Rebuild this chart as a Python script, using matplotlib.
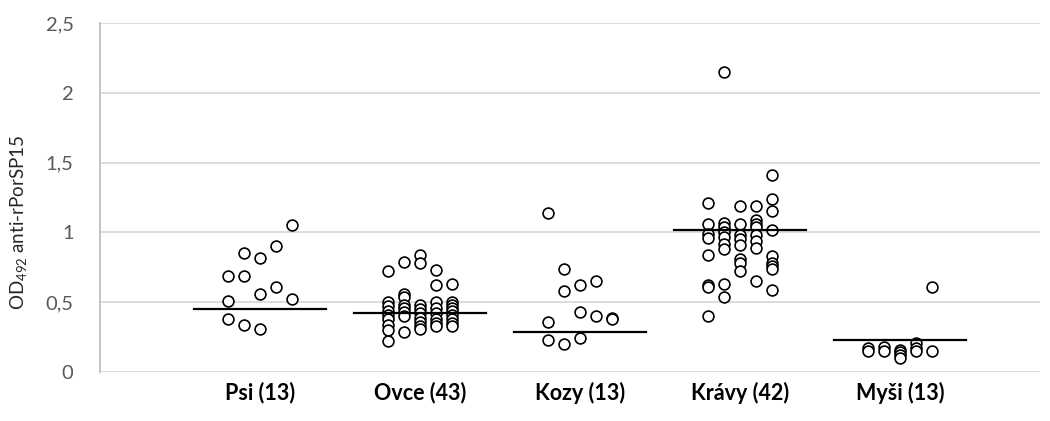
import matplotlib.pyplot as plt

plt.rcParams['font.family'] = ['Lato', 'DejaVu Sans']

# skupiny a počty
groups = ['Psi (13)', 'Ovce (43)', 'Kozy (13)', 'Krávy (42)', 'Myši (13)']
offsets = [-0.2, -0.1, 0.0, 0.1, 0.2]

# hodnoty OD po sloupcích (5 sloupců na skupinu)
psi = [[0.69, 0.51, 0.38],
       [0.85, 0.69, 0.34],
       [0.82, 0.56, 0.31],
       [0.90, 0.61],
       [1.05, 0.52]]
ovce = [[0.72, 0.50, 0.47, 0.44, 0.41, 0.38, 0.34, 0.30, 0.22],
        [0.79, 0.56, 0.54, 0.48, 0.46, 0.43, 0.40, 0.29],
        [0.84, 0.78, 0.48, 0.45, 0.42, 0.39, 0.36, 0.33, 0.31],
        [0.73, 0.62, 0.50, 0.46, 0.42, 0.38, 0.35, 0.33],
        [0.63, 0.50, 0.48, 0.46, 0.44, 0.41, 0.38, 0.35, 0.33]]
kozy = [[1.14, 0.36, 0.23],
        [0.74, 0.58, 0.20],
        [0.62, 0.43, 0.24],
        [0.65, 0.40],
        [0.39, 0.38]]
kravy = [[1.21, 1.06, 0.99, 0.96, 0.84, 0.62, 0.61, 0.40],
         [2.15, 1.07, 1.04, 1.00, 0.97, 0.92, 0.88, 0.63, 0.54],
         [1.19, 1.06, 0.98, 0.95, 0.91, 0.81, 0.78, 0.72],
         [1.19, 1.09, 1.06, 1.04, 0.98, 0.94, 0.89, 0.65],
         [1.41, 1.24, 1.15, 1.02, 0.83, 0.78, 0.76, 0.74, 0.59]]
mysi = [[0.17, 0.15],
        [0.18, 0.15],
        [0.16, 0.14, 0.12, 0.10],
        [0.21, 0.17, 0.15],
        [0.61, 0.15]]
data = [psi, ovce, kozy, kravy, mysi]

# úrovně vodorovných čar
line_vals = [0.45, 0.425, 0.285, 1.015, 0.23]

fig = plt.figure(figsize=(10.5, 4.21), dpi=100)
ax = fig.add_axes([100/1050, 49/421, 940/1050, 349/421])

for i, grp in enumerate(data):
    c = i + 1
    for off, col in zip(offsets, grp):
        ax.plot([c + off] * len(col), col, 'o', ms=7.8, mfc='white', mec='black', mew=1.2, ls='none', zorder=3)
    ax.plot([c - 0.41, c + 0.41], [line_vals[i], line_vals[i]], color='black', lw=1.6, zorder=4)

ax.set_xlim(0, 940/160)
ax.set_ylim(0, 2.5)
yt = [0, 0.5, 1, 1.5, 2, 2.5]
ax.set_yticks(yt)
ax.set_yticklabels(['0', '0,5', '1', '1,5', '2', '2,5'], color='#595959', fontsize=14.5)
ax.set_xticks(range(1, 6))
ax.set_xticklabels(groups, fontsize=15.5, fontweight='bold', color='black')
ax.tick_params(axis='both', length=0)
ax.tick_params(axis='y', pad=19)
ax.tick_params(axis='x', pad=7)
ax.grid(axis='y', color='#d9d9d9', lw=1.3)
ax.set_axisbelow(True)
for s in ['top', 'right', 'bottom']:
    ax.spines[s].set_visible(False)
ax.spines['left'].set_color('#bfbfbf')
ax.spines['left'].set_linewidth(1.3)
fig.text(19/1050, 1 - 222/421, 'OD$_{\\mathregular{492}}$ anti-rPorSP15', rotation=90,
         ha='center', va='center', fontsize=13.5, color='#262626')

plt.savefig('out.png', dpi=100)
